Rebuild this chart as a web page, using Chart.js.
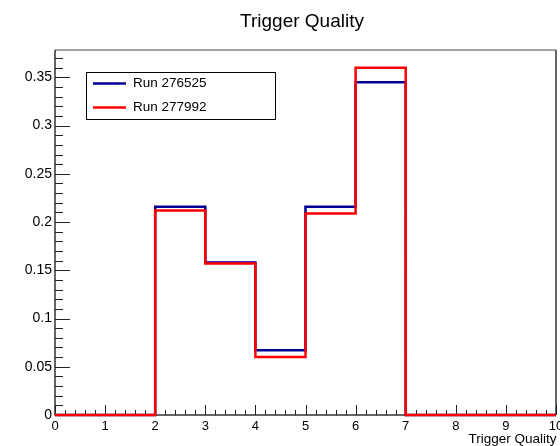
<!DOCTYPE html>
<html>
<head>
<meta charset="utf-8">
<script src="https://cdn.jsdelivr.net/npm/chart.js@4/dist/chart.umd.min.js"></script>
<style>
html,body{margin:0;padding:0;background:#fff;}
#c{display:block;}
</style>
</head>
<body>
<canvas id="c" width="560" height="446"></canvas>
<script>
// Histogram data (bin contents for bins [0,1),[1,2),...,[9,10))
const binEdges = [0,1,2,3,4,5,6,7,8,9,10];
const run276525 = [0,0,0.216,0.158,0.067,0.216,0.345,0,0,0];
const run277992 = [0,0,0.212,0.157,0.060,0.209,0.360,0,0,0];
const seriesLabels = ['Run 276525','Run 277992'];
const chartTitle = 'Trigger Quality';
const xAxisTitle = 'Trigger Quality';
const xTicks = [0,1,2,3,4,5,6,7,8,9,10];
const yTicks = [0,0.05,0.1,0.15,0.2,0.25,0.3,0.35];

function stepPoints(vals){
  const pts = [];
  for (let i=0;i<vals.length;i++) pts.push({x:binEdges[i], y:vals[i]});
  pts.push({x:binEdges[binEdges.length-1], y:vals[vals.length-1]});
  return pts;
}

const FONT = '"Liberation Sans", Arial, Helvetica, sans-serif';

const rootDeco = {
  id:'rootDeco',
  beforeDatasetsDraw(chart){
    const ctx = chart.ctx, a = chart.chartArea;
    const xs = chart.scales.x, ys = chart.scales.y;
    ctx.save();
    // frame
    ctx.lineWidth = 1.5;
    ctx.strokeStyle = '#888';
    ctx.beginPath(); ctx.moveTo(a.left, a.top); ctx.lineTo(a.right, a.top); ctx.stroke();
    ctx.strokeStyle = '#333';
    ctx.beginPath(); ctx.moveTo(a.right, a.top); ctx.lineTo(a.right, a.bottom); ctx.stroke();
    ctx.beginPath(); ctx.moveTo(a.left, a.top); ctx.lineTo(a.left, a.bottom); ctx.lineTo(a.right, a.bottom); ctx.stroke();
    // y ticks (inward)
    ctx.lineWidth = 1;
    ctx.strokeStyle = '#222';
    for (let k=0;k*0.01<=ys.max+1e-9;k++){
      const y = Math.round(ys.getPixelForValue(k*0.01))+0.5;
      const len = (k%5===0)?15:8;
      ctx.beginPath(); ctx.moveTo(a.left, y); ctx.lineTo(a.left+len, y); ctx.stroke();
    }
    // x ticks (inward)
    for (let k=0;k<=50;k++){
      const x = Math.round(xs.getPixelForValue(k*0.2))+0.5;
      const len = (k%5===0)?10:5;
      ctx.beginPath(); ctx.moveTo(x, a.bottom); ctx.lineTo(x, a.bottom-len); ctx.stroke();
    }
    ctx.restore();
  },
  afterDraw(chart){
    const ctx = chart.ctx;
    ctx.save();
    ctx.fillStyle = '#000';
    ctx.textBaseline = 'alphabetic';
    // title
    ctx.font = '19px ' + FONT;
    ctx.textAlign = 'center';
    ctx.fillText(chartTitle, 302, 26.5);
    // x axis title
    ctx.font = '13.5px ' + FONT;
    ctx.textAlign = 'right';
    ctx.fillText(xAxisTitle, 556.5, 443);
    // legend
    const bx = 86.5, by = 72.5, bw = 189, bh = 47;
    ctx.fillStyle = '#fff';
    ctx.fillRect(bx, by, bw, bh);
    ctx.strokeStyle = '#000';
    ctx.lineWidth = 1;
    ctx.strokeRect(bx, by, bw, bh);
    const ys = [83.5, 107.5];
    chart.data.datasets.forEach((ds,i)=>{
      ctx.strokeStyle = ds.borderColor;
      ctx.lineWidth = 2.5;
      ctx.beginPath(); ctx.moveTo(93, ys[i]); ctx.lineTo(126, ys[i]); ctx.stroke();
      ctx.fillStyle = '#000';
      ctx.font = '13.5px ' + FONT;
      ctx.textAlign = 'left';
      ctx.textBaseline = 'middle';
      ctx.fillText(ds.label, 133, ys[i]);
    });
    ctx.restore();
  }
};

new Chart(document.getElementById('c'), {
  type:'line',
  data:{
    datasets:[
      {label:seriesLabels[0], data:stepPoints(run276525), borderColor:'#000099', borderWidth:2.5,
       stepped:'before', pointRadius:0, fill:false, clip:8, order:1},
      {label:seriesLabels[1], data:stepPoints(run277992), borderColor:'#ff0000', borderWidth:2.5,
       stepped:'before', pointRadius:0, fill:false, clip:8, order:0}
    ]
  },
  options:{
    responsive:false,
    animation:false,
    events:[],
    layout:{padding:{top:50, right:4, left:0, bottom:0}, autoPadding:false},
    plugins:{legend:{display:false}, title:{display:false}, tooltip:{enabled:false}},
    scales:{
      x:{
        type:'linear', min:0, max:10,
        border:{display:false},
        grid:{display:false, drawTicks:false},
        afterBuildTicks(s){ s.ticks = xTicks.map(v=>({value:v})); },
        afterFit(s){ s.height = 31; s.paddingLeft = 0; s.paddingRight = 0; },
        ticks:{color:'#000', font:{family:FONT, size:13}, padding:4, maxRotation:0, autoSkip:false,
               callback:v=>String(v)}
      },
      y:{
        type:'linear', min:0, max:0.3784,
        border:{display:false},
        grid:{display:false, drawTicks:false},
        afterBuildTicks(s){ s.ticks = yTicks.map(v=>({value:v})); },
        afterFit(s){ s.width = 55; s.paddingTop = 0; s.paddingBottom = 0; },
        ticks:{color:'#000', font:{family:FONT, size:14}, padding:3, autoSkip:false,
               callback:v=>String(parseFloat(v.toFixed(2)))}
      }
    }
  },
  plugins:[rootDeco]
});
</script>
</body>
</html>
